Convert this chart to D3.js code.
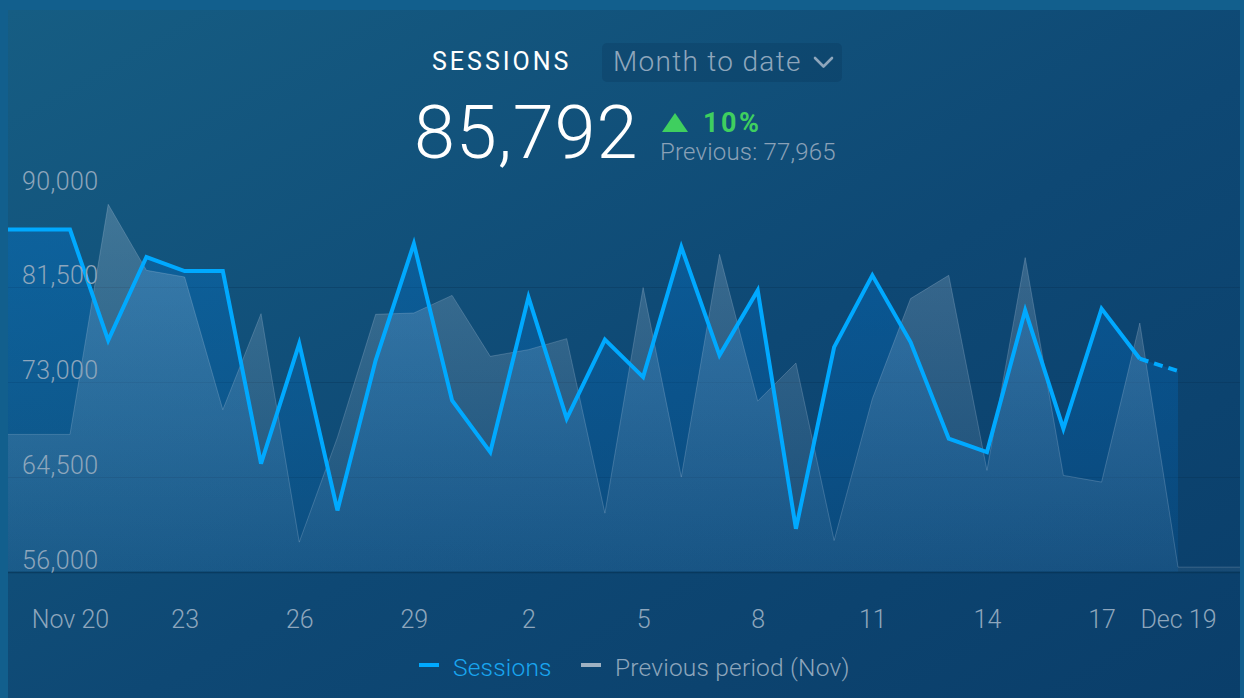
<!DOCTYPE html>
<html>
<head>
<meta charset="utf-8">
<script src="https://cdn.jsdelivr.net/npm/d3@7"></script>
<style>
  html, body { margin: 0; padding: 0; background: #125f8d; }
  svg { display: block; }
  text { font-family: Roboto, "Noto Sans", sans-serif; }
  .light { font-family: "Roboto Light", Roboto, "Noto Sans", sans-serif; font-weight: 300; }
</style>
</head>
<body>
<svg id="chart" width="1244" height="698"></svg>
<script>
// Daily sessions, Nov 20 – Dec 19
const categories = [
  "Nov 20", "Nov 21", "Nov 22", "Nov 23", "Nov 24", "Nov 25", "Nov 26", "Nov 27", "Nov 28", "Nov 29",
  "Nov 30", "Dec 1", "Dec 2", "Dec 3", "Dec 4", "Dec 5", "Dec 6", "Dec 7", "Dec 8", "Dec 9",
  "Dec 10", "Dec 11", "Dec 12", "Dec 13", "Dec 14", "Dec 15", "Dec 16", "Dec 17", "Dec 18", "Dec 19"
];
const sessions = [
  86670, 76730, 84210, 82950, 82950, 65670, 76440, 61480, 74940, 85410,
  71350, 66710, 80620, 69710, 76800, 73440, 85110, 75390, 81220, 59830,
  76130, 82570, 76580, 67910, 66710, 79430, 68810, 79580, 75090, 73980
];
const previous = [
  68300, 88940, 83020, 82420, 70510, 79130, 58630, 68030, 79070, 79190,
  80770, 75300, 75900, 76890, 61230, 81470, 64470, 84450, 71290, 74700,
  58780, 71500, 80480, 82570, 65070, 84160, 64620, 64020, 78290, 56390
];
const yTicks = [56000, 64500, 73000, 81500, 90000];
const tickCategories = ["Nov 20", "Nov 23", "Nov 26", "Nov 29", "Dec 2", "Dec 5", "Dec 8", "Dec 11", "Dec 14", "Dec 17", "Dec 19"];
const tickLabels = ["Nov 20", "23", "26", "29", "2", "5", "8", "11", "14", "17", "Dec 19"];
const seriesNames = ["Sessions", "Previous period (Nov)"];
const headline = { metric: "SESSIONS", range: "Month to date", total: "85,792", change: "10%", previous: "Previous: 77,965" };

const svg = d3.select("#chart");
const panel = { left: 8, top: 10, right: 1240, bottom: 698 };

const defs = svg.append("defs");
const bg = defs.append("linearGradient").attr("id", "bg")
  .attr("x1", 0).attr("y1", 0).attr("x2", 1).attr("y2", 1);
bg.append("stop").attr("offset", "0%").attr("stop-color", "#165d83");
bg.append("stop").attr("offset", "55%").attr("stop-color", "#0e4874");
bg.append("stop").attr("offset", "100%").attr("stop-color", "#0a3e6a");

const x = d3.scalePoint().domain(categories).range([70, 1178]);
const y = d3.scaleLinear().domain([56000, 90000]).range([571.5, 192.5]);

const sGrad = defs.append("linearGradient").attr("id", "sessFill")
  .attr("gradientUnits", "userSpaceOnUse").attr("x1", 0).attr("y1", y(90000)).attr("x2", 0).attr("y2", y(56000));
sGrad.append("stop").attr("offset", "0%").attr("stop-color", "rgb(0,120,215)").attr("stop-opacity", 0.36);
sGrad.append("stop").attr("offset", "100%").attr("stop-color", "rgb(0,120,215)").attr("stop-opacity", 0.12);

const pGrad = defs.append("linearGradient").attr("id", "prevFill")
  .attr("gradientUnits", "userSpaceOnUse").attr("x1", 0).attr("y1", y(90000)).attr("x2", 0).attr("y2", y(56000));
pGrad.append("stop").attr("offset", "0%").attr("stop-color", "rgb(190,205,220)").attr("stop-opacity", 0.27);
pGrad.append("stop").attr("offset", "100%").attr("stop-color", "rgb(190,205,220)").attr("stop-opacity", 0.07);

// panel
svg.append("rect").attr("x", panel.left).attr("y", panel.top)
  .attr("width", panel.right - panel.left).attr("height", panel.bottom - panel.top)
  .attr("fill", "url(#bg)");

// gridlines
svg.append("g").selectAll("line").data(yTicks.filter(v => v < 90000)).join("line")
  .attr("x1", panel.left).attr("x2", panel.right)
  .attr("y1", d => Math.round(y(d)) + 0.5).attr("y2", d => Math.round(y(d)) + 0.5)
  .attr("stroke", "#06304f").attr("stroke-opacity", d => d === 56000 ? 0.55 : 0.3).attr("stroke-width", d => d === 56000 ? 1.5 : 1);

// points with flat padding to the panel edges
const sessPts = [[panel.left, sessions[0]], ...categories.map((c, i) => [x(c), sessions[i]])];
const prevPts = [[panel.left, previous[0]], ...categories.map((c, i) => [x(c), previous[i]]), [panel.right, previous[previous.length - 1]]];

const area = d3.area().x(d => d[0]).y0(y(56000)).y1(d => y(d[1]));
const line = d3.line().x(d => d[0]).y(d => y(d[1]));

svg.append("path").attr("d", area(sessPts)).attr("fill", "url(#sessFill)");
svg.append("path").attr("d", area(prevPts)).attr("fill", "url(#prevFill)");
svg.append("path").attr("d", line(prevPts)).attr("fill", "none")
  .attr("stroke", "rgb(200,215,230)").attr("stroke-opacity", 0.22).attr("stroke-width", 1);

// sessions line: solid through yesterday, dashed for today
svg.append("path").attr("d", line(sessPts.slice(0, sessPts.length - 1))).attr("fill", "none")
  .attr("stroke", "#00a9ff").attr("stroke-width", 4).attr("stroke-linejoin", "miter");
svg.append("path").attr("d", line(sessPts.slice(sessPts.length - 2))).attr("fill", "none")
  .attr("stroke", "#00a9ff").attr("stroke-width", 4).attr("stroke-dasharray", "9,6");

// y labels
const yAxis = d3.axisRight(y).tickValues(yTicks).tickSize(0).tickFormat(d3.format(","));
const yg = svg.append("g").attr("transform", `translate(${22},0)`).call(yAxis);
yg.select(".domain").remove();
yg.selectAll("text").attr("x", 0).attr("dy", null)
  .attr("transform", "translate(0,-3.5)")
  .attr("text-anchor", "start").attr("fill", "#8ea6bc")
  .attr("font-size", 25).attr("letter-spacing", 0.4).attr("class", "light").attr("font-family", null);

// x labels
const xAxis = d3.axisBottom(x).tickValues(tickCategories).tickSize(0)
  .tickFormat(d => tickLabels[tickCategories.indexOf(d)]);
const xg = svg.append("g").attr("transform", `translate(0,${610})`).call(xAxis);
xg.select(".domain").remove();
xg.selectAll("text").attr("y", 18).attr("dy", null).attr("fill", "#8ea6bc")
  .attr("font-size", 25).attr("class", "light").attr("font-family", null);

// header
svg.append("text").attr("x", 432).attr("y", 70).text(headline.metric)
  .attr("fill", "#ffffff").attr("font-size", 25).attr("letter-spacing", 3);
svg.append("rect").attr("x", 602).attr("y", 43).attr("width", 240).attr("height", 39).attr("rx", 5)
  .attr("fill", "#00213d").attr("fill-opacity", 0.16);
svg.append("text").attr("x", 613).attr("y", 71).text(headline.range).attr("class", "light")
  .attr("fill", "#8ea6bc").attr("font-size", 28).attr("letter-spacing", 1.3);
svg.append("polyline").attr("points", "815,58 823.5,66.5 832,58").attr("fill", "none")
  .attr("stroke", "#8ea6bc").attr("stroke-width", 2.6).attr("stroke-linecap", "round").attr("stroke-linejoin", "round");
svg.append("text").attr("x", 414).attr("y", 158).text(headline.total).attr("class", "light")
  .attr("fill", "#ffffff").attr("font-size", 74).attr("letter-spacing", 0.8);
svg.append("path").attr("d", "M662,132 L675,113 L688,132 Z").attr("fill", "#3fcf5f");
svg.append("text").attr("x", 703).attr("y", 132).text(headline.change)
  .attr("fill", "#3fcf5f").attr("font-size", 27).attr("font-weight", 700).attr("letter-spacing", 2.5);
svg.append("text").attr("x", 660).attr("y", 160).text(headline.previous).attr("class", "light")
  .attr("fill", "#8aa1b7").attr("font-size", 24).attr("letter-spacing", 0.2);

// legend
const legendColors = ["#00a9ff", "#9fb1c2"];
const legendText = ["#19a6f0", "#8ea6bc"];
const legendX = [419, 581];
seriesNames.forEach((name, i) => {
  svg.append("line").attr("x1", legendX[i]).attr("x2", legendX[i] + 20).attr("y1", 665).attr("y2", 665)
    .attr("stroke", legendColors[i]).attr("stroke-width", 4);
  svg.append("text").attr("x", legendX[i] + 34).attr("y", 676).text(name).attr("class", "light")
    .attr("fill", legendText[i]).attr("font-size", 24.5).attr("letter-spacing", 0.2);
});
</script>
</body>
</html>
